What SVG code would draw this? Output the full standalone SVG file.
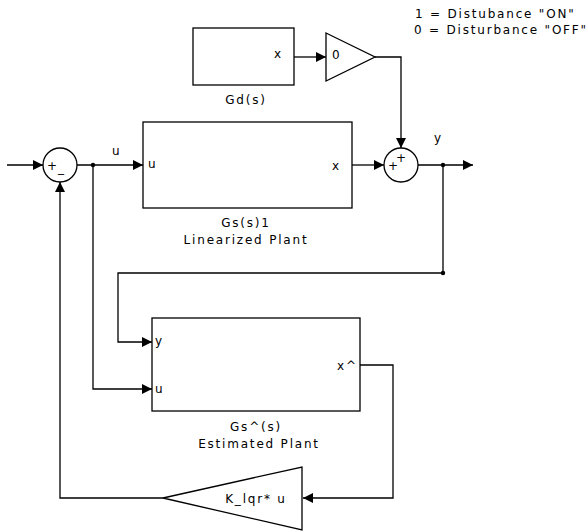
<svg xmlns="http://www.w3.org/2000/svg" width="588" height="531" viewBox="0 0 588 531">
<style>
.blk{fill:#fff;stroke:#000;stroke-width:1.3}
.ln{fill:none;stroke:#000;stroke-width:1.3}
text{font-family:"DejaVu Sans","Liberation Sans",Arial,sans-serif;font-size:12px;letter-spacing:1.8px;fill:#000}
.c{text-anchor:middle}
.s{letter-spacing:0}
</style>
<defs>
<marker id="ah" viewBox="0 0 10 10" refX="10" refY="5" markerWidth="10" markerHeight="10" markerUnits="userSpaceOnUse" orient="auto">
<path d="M0,0 L10,5 L0,10 z" fill="#000"/>
</marker>
</defs>
<rect width="588" height="531" fill="#fff"/>
<g id="connectors">
<path class="ln" d="M7,165 H43" marker-end="url(#ah)"/>
<path class="ln" d="M77,165 H143" marker-end="url(#ah)"/>
<path class="ln" d="M294,57 H326" marker-end="url(#ah)"/>
<path class="ln" d="M375,57 H401 V148" marker-end="url(#ah)"/>
<path class="ln" d="M352,165 H384" marker-end="url(#ah)"/>
<path class="ln" d="M418,165 H473" marker-end="url(#ah)"/>
<path class="ln" d="M443,165 V273 H118 V342 H152" marker-end="url(#ah)"/>
<path class="ln" d="M93,165 V389 H152" marker-end="url(#ah)"/>
<path class="ln" d="M360,365 H393 V498 H303" marker-end="url(#ah)"/>
<path class="ln" d="M163,498 H60 V182" marker-end="url(#ah)"/>
<circle cx="93" cy="165" r="2.2" fill="#000"/>
<circle cx="443" cy="165" r="2.2" fill="#000"/>
<circle cx="443" cy="273" r="2.2" fill="#000"/>
</g>
<g id="sum1">
<circle class="blk" cx="60" cy="165" r="17"/>
<text x="52" y="169.5" class="c s">+</text>
<text x="61" y="172" class="c s">_</text>
</g>
<g id="gd">
<rect class="blk" x="193" y="28" width="101" height="57"/>
<text x="274" y="58">x</text>
<text x="246" y="104" class="c">Gd(s)</text>
</g>
<g id="gain0">
<path class="blk" d="M326,33 L375,57 L326,81 z"/>
<text x="332" y="59">0</text>
</g>
<g id="note">
<text x="415" y="18">1 = Distubance "ON"</text>
<text x="414" y="34">0 = Disturbance "OFF"</text>
</g>
<g id="plant">
<rect class="blk" x="143" y="122" width="209" height="86"/>
<text x="148" y="168">u</text>
<text x="332" y="170">x</text>
<text x="246" y="227" class="c">Gs(s)1</text>
<text x="246" y="244" class="c">Linearized Plant</text>
<text x="112" y="155">u</text>
</g>
<g id="sum2">
<circle class="blk" cx="401" cy="165" r="17"/>
<text x="401" y="161.5" class="c s">+</text>
<text x="393" y="169.5" class="c s">+</text>
<text x="434" y="142">y</text>
</g>
<g id="estimator">
<rect class="blk" x="152" y="318" width="208" height="93"/>
<text x="155" y="345">y</text>
<text x="155" y="393">u</text>
<text x="337" y="370">x^</text>
<text x="256" y="431" class="c">Gs^(s)</text>
<text x="259" y="448" class="c">Estimated Plant</text>
</g>
<g id="klqr">
<path class="blk" d="M302,467 L302,530 L163,498 z"/>
<text x="256" y="503" class="c">K_lqr* u</text>
</g>
</svg>
